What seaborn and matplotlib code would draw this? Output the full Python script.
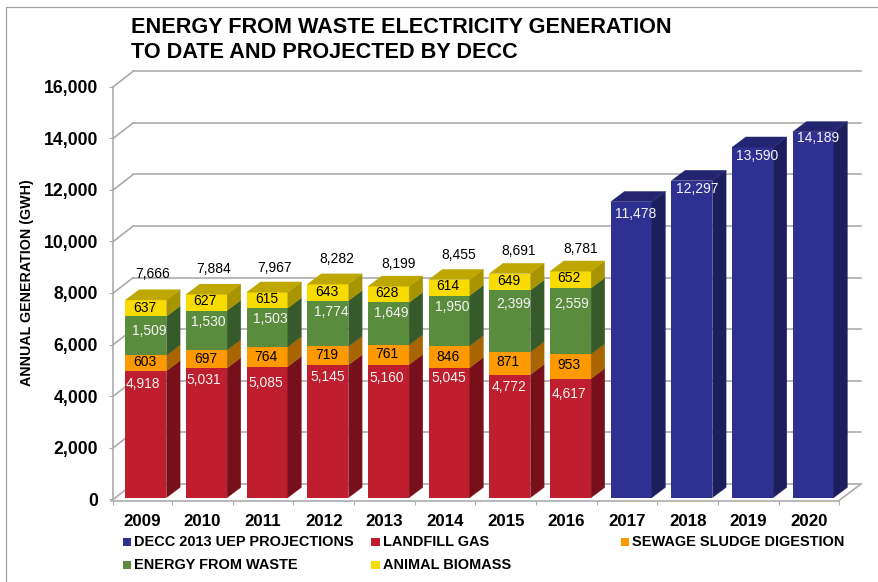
import matplotlib
matplotlib.use("Agg")
import matplotlib.pyplot as plt
import seaborn as sns
from matplotlib.patches import Polygon, Rectangle
from matplotlib.lines import Line2D
from matplotlib.transforms import Affine2D, IdentityTransform

years = ['2009', '2010', '2011', '2012', '2013', '2014', '2015', '2016',
         '2017', '2018', '2019', '2020']
actual_years = years[:8]
projected_years = years[8:]

landfill_gas = [4918, 5031, 5085, 5145, 5160, 5045, 4772, 4617]
sewage_sludge = [603, 697, 764, 719, 761, 846, 871, 953]
energy_from_waste = [1509, 1530, 1503, 1774, 1649, 1950, 2399, 2559]
animal_biomass = [637, 627, 615, 643, 628, 614, 649, 652]
totals = [7666, 7884, 7967, 8282, 8199, 8455, 8691, 8781]
projections = [11478, 12297, 13590, 14189]

# hand placement of the data labels, pixels from the bar's front top centre
landfill_dx = [-3, -2.5, -1, 0, -2, 0, -1, -1.4]
landfill_drop = [13.2, 12.1, 16.2, 12.3, 13.7, 10.8, 12.7, 15.7]
sludge_dx = [-0.8, -1.2, -0.9, -0.9, -1.3, -1, -1.7, -1.4]
sludge_drop = [7, 8.8, 9.9, 8.9, 9.4, 11, 10.2, 11.3]
efw_dx = [3.5, 1.8, 3.1, 3.1, 3.1, 3, 3.7, 1.3]
efw_drop = [14.4, 11.3, 11.3, 11.7, 10.9, 11.3, 14.1, 16.3]
biomass_dx = [-0.8, -1.2, -0.9, -0.9, -1.3, -1, -1, -1.4]
biomass_drop = [7.8, 7, 7.1, 7.7, 7.1, 6.7, 7.8, 7.1]
total_dx = [6.2, 6.8, 7.1, 9.4, 9.7, 9, 8.7, 10.3]
total_rise = [25.9, 25, 24.2, 24.7, 21.9, 24.3, 22.8, 22.5]
proj_dx = [4.6, 4.9, 4.5, 4.5]
proj_drop = [12.7, 8.9, 8.6, 5.7]

W, H = 879, 582
GRID = '#ababab'
DEPTH_WALL = (22, 15.5)
DEPTH_BAR = (13.7, 10.3)
BAR_SHIFT = (4.3, 1.6)

sns.set_style("white")
plt.rcParams['font.family'] = ['Liberation Sans', 'DejaVu Sans']
plt.rcParams['text.color'] = 'black'

fig = plt.figure(figsize=(W / 100, H / 100), dpi=100)
ax = fig.add_axes([111.3 / W, 1 - 499.3 / H, 728 / W, 412.6 / H])


def px_line(x0, y0, x1, y1, lw=1.2, color=GRID, zorder=0.5):
    # line in display pixels, y measured from the bottom
    ax.add_line(Line2D([x0, x1], [y0, y1], transform=IdentityTransform(), color=color,
                       lw=lw, zorder=zorder, clip_on=False))


def stack_segment(values, bottoms, order, front, side, top=None):
    sns.barplot(x=order, y=values, bottom=bottoms, order=years, color=front, saturation=1,
                width=41 / 60.67, linewidth=0, ax=ax)
    ax.set_xlim(-0.5, 11.5)
    ax.set_ylim(0, 16000)
    shift = ax.transData + Affine2D().translate(*BAR_SHIFT)
    for bar in ax.containers[-1]:
        bar.set_transform(shift)
        bar.set_zorder(2)
        (x0, y0), (x1, y1) = shift.transform([(bar.get_x(), bar.get_y()),
                                              (bar.get_x() + bar.get_width(),
                                               bar.get_y() + bar.get_height())])
        dx, dy = DEPTH_BAR
        ax.add_patch(Polygon([(x1, y0), (x1 + dx, y0 + dy), (x1 + dx, y1 + dy), (x1, y1)],
                             transform=IdentityTransform(), facecolor=side, edgecolor=side,
                             lw=0.2, zorder=2, clip_on=False))
        if top:
            ax.add_patch(Polygon([(x0, y1), (x0 + dx, y1 + dy), (x1 + dx, y1 + dy), (x1, y1)],
                                 transform=IdentityTransform(), facecolor=top, edgecolor=top,
                                 lw=0.2, zorder=2, clip_on=False))


def label(i, y, value, dx, drop, color):
    ax.annotate(f"{value:,}", (i, y), xytext=((BAR_SHIFT[0] + dx) * 0.72, (BAR_SHIFT[1] - drop) * 0.72),
                textcoords='offset points', ha='center', va='center', fontsize=10,
                color=color, zorder=5, annotation_clip=False)


base2 = [a + b for a, b in zip(landfill_gas, sewage_sludge)]
base3 = [a + b for a, b in zip(base2, energy_from_waste)]
base4 = [a + b for a, b in zip(base3, animal_biomass)]

stack_segment(landfill_gas, 0, actual_years, '#BE1E2D', '#78101B')
stack_segment(sewage_sludge, landfill_gas, actual_years, '#FF9900', '#A86500')
stack_segment(energy_from_waste, base2, actual_years, '#5A8C3E', '#375A2A')
stack_segment(animal_biomass, base3, actual_years, '#F8DC00', '#A89400', top='#BDA700')
stack_segment(projections, 0, projected_years, '#2E3192', '#1D1E5E', top='#232570')

for i in range(len(actual_years)):
    label(i, landfill_gas[i], landfill_gas[i], landfill_dx[i], landfill_drop[i], '#f4f4f4')
    label(i, base2[i], sewage_sludge[i], sludge_dx[i], sludge_drop[i], 'black')
    label(i, base3[i], energy_from_waste[i], efw_dx[i], efw_drop[i], '#f4f4f4')
    label(i, base4[i], animal_biomass[i], biomass_dx[i], biomass_drop[i], 'black')
    label(i, base4[i], totals[i], total_dx[i], -total_rise[i], 'black')
for i, v in enumerate(projections):
    label(i + 8, v, v, proj_dx[i], proj_drop[i], '#f4f4f4')

# spines first: moving a spine resets the ticks
for s in ['top', 'right']:
    ax.spines[s].set_visible(False)
ax.spines['left'].set_position(('outward', -1.44))
ax.spines['bottom'].set_position(('outward', 0.9))
for s in ['left', 'bottom']:
    ax.spines[s].set_color(GRID)
    ax.spines[s].set_linewidth(1.2)
ax.patch.set_alpha(0)
ax.set_xlabel('')
ax.set_ylabel('')

# back wall and floor
yticks = list(range(0, 16001, 2000))
ax.set_yticks(yticks)
ax.set_yticklabels([f"{v:,}" for v in yticks], fontweight='bold', fontsize=12.7, color='black')
left_px = ax.transData.transform((-0.5, 0))[0] + 2
right_px = ax.transData.transform((11.5, 0))[0]
for v in yticks:
    y_px = ax.transData.transform((0, v))[1]
    px_line(left_px, y_px, left_px + DEPTH_WALL[0] - 2, y_px + DEPTH_WALL[1])
    px_line(left_px + DEPTH_WALL[0] - 2, y_px + DEPTH_WALL[1], right_px + DEPTH_WALL[0], y_px + DEPTH_WALL[1])
floor_px = ax.transData.transform((0, 0))[1]
px_line(right_px, floor_px - 1, right_px + DEPTH_WALL[0], floor_px + DEPTH_WALL[1])

# years sit in the band centres, tick marks on the band edges
ax.set_xticks(range(len(years)))
ax.set_xticklabels(years, fontweight='bold', fontsize=12.2, color='black')
ax.set_xticks([-0.467] + [i + 0.5 for i in range(12)], minor=True)
ax.tick_params(axis='x', which='major', length=0, pad=9.5)
ax.tick_params(axis='x', which='minor', length=3, width=0.8, color=GRID, bottom=True)
ax.tick_params(axis='y', length=3, width=0.8, color=GRID, left=True, pad=8)


def fig_text(x, y, s, **kw):
    fig.text(x / W, 1 - y / H, s, **kw)


fig_text(131, 27.5, 'ENERGY FROM WASTE ELECTRICITY GENERATION', fontsize=15.6, fontweight='bold', va='center')
fig_text(131, 52, 'TO DATE AND PROJECTED BY DECC', fontsize=15.6, fontweight='bold', va='center')
fig_text(27, 283, 'ANNUAL GENERATION (GWH)', fontsize=10.3, fontweight='bold', rotation=90,
         ha='center', va='center')

legend_items = [('DECC 2013 UEP PROJECTIONS', '#2E3192', 123, 541.7),
                ('LANDFILL GAS', '#BE1E2D', 371.5, 541.7),
                ('SEWAGE SLUDGE DIGESTION', '#FF9900', 620.7, 541.7),
                ('ENERGY FROM WASTE', '#5A8C3E', 123, 565),
                ('ANIMAL BIOMASS', '#F8DC00', 371.5, 565)]
for name, color, x, y in legend_items:
    fig.add_artist(Rectangle((x / W, 1 - (y + 4) / H), 8.5 / W, 8 / H, transform=fig.transFigure,
                             facecolor=color, edgecolor='none'))
    fig_text(x + 11.5, y, name, fontsize=10.45, fontweight='bold', va='center')

# chart frame only shows along the top and left of the crop
fig.add_artist(Line2D([6 / W, 6 / W], [0, 1 - 6.5 / H], transform=fig.transFigure, color='#a0a0a0', lw=0.9))
fig.add_artist(Line2D([6 / W, 1], [1 - 6.5 / H, 1 - 6.5 / H], transform=fig.transFigure, color='#a0a0a0', lw=0.9))

fig.savefig('out.png', dpi=100)
